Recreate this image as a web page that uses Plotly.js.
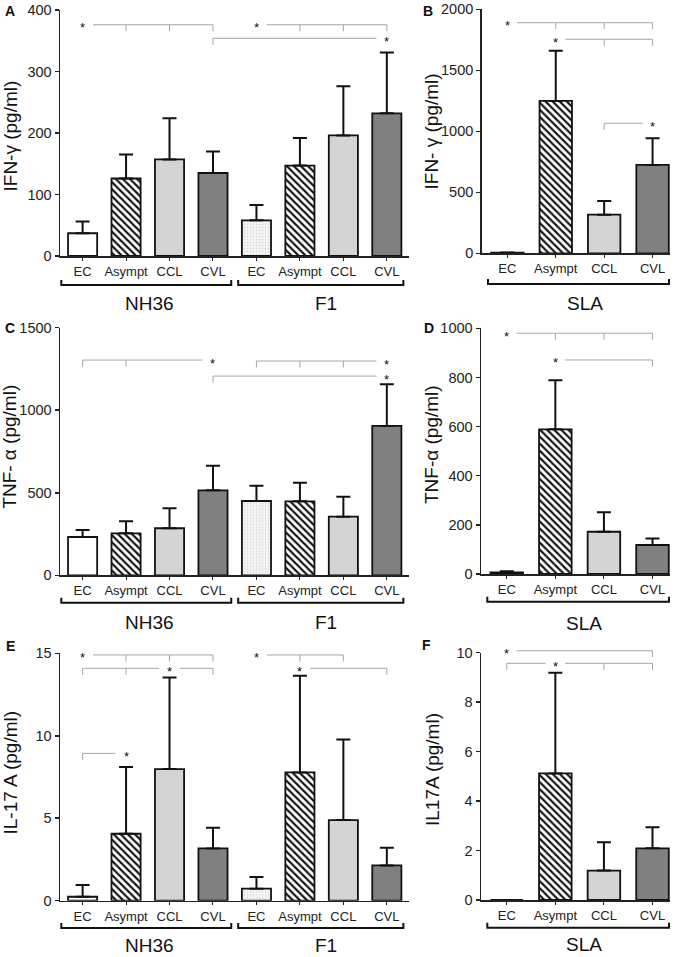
<!DOCTYPE html>
<html>
<head>
<meta charset="utf-8">
<script src="https://cdn.plot.ly/plotly-3.0.1.min.js"></script>
<style>
    html, body { margin: 0; padding: 0; background: #ffffff; }
    #figure { width: 679px; height: 957px; }
</style>
</head>
<body>
<div id="figure"></div>
<script>
// Cytokine levels (pg/ml) per clinical group

const groups = ['EC', 'Asympt', 'CCL', 'CVL'];
const pairAntigens = ['NH36', 'F1'];
const slaAntigen = ['SLA'];

// IFN-gamma: NH36 (4 groups) then F1 (4 groups); upper = top of the SE bar
const ifnMean = [37, 126, 157, 135, 58, 147, 196, 232];
const ifnUpper = [56, 165, 224, 170, 83, 192, 276, 331];
const ifnSlaMean = [5, 1249, 317, 724];
const ifnSlaUpper = [6, 1661, 429, 943];

// TNF-alpha
const tnfMean = [232, 254, 285, 515, 450, 448, 355, 905];
const tnfUpper = [275, 327, 406, 664, 543, 561, 476, 1157];
const tnfSlaMean = [7, 589, 172, 118];
const tnfSlaUpper = [11, 789, 251, 144];

// IL-17A
const il17Mean = [0.24, 4.06, 7.98, 3.17, 0.73, 7.78, 4.89, 2.14];
const il17Upper = [0.95, 8.1, 13.54, 4.43, 1.44, 13.64, 9.78, 3.21];
const il17SlaMean = [0, 5.12, 1.19, 2.09];
const il17SlaUpper = [0, 9.19, 2.34, 2.94];

// Significance brackets: level, group index carrying the star, groups compared
const ifnSig = [
    { y: 376, star: 0, ticks: [1, 2, 3] },
    { y: 376, star: 4, ticks: [5, 6, 7] },
    { y: 354, star: 7, ticks: [3] }
];
const ifnSlaSig = [
    { y: 1890, star: 0, ticks: [1, 2, 3] },
    { y: 1754, star: 1, ticks: [2, 3] },
    { y: 1066, star: 3, ticks: [2] }
];
const tnfSig = [
    { y: 1304, star: 3, ticks: [0, 1] },
    { y: 1298, star: 7, ticks: [4, 5, 6] },
    { y: 1207, star: 7, ticks: [3] }
];
const tnfSlaSig = [
    { y: 980, star: 0, ticks: [1, 2, 3] },
    { y: 871, star: 1, ticks: [3] }
];
const il17Sig = [
    { y: 14.9, star: 0, ticks: [1, 2, 3] },
    { y: 14.09, star: 2, ticks: [0, 1, 3] },
    { y: 8.93, star: 1, ticks: [0] },
    { y: 14.9, star: 4, ticks: [5, 6] },
    { y: 14.09, star: 5, ticks: [7] }
];
const il17SlaSig = [
    { y: 10.08, star: 0, ticks: [3] },
    { y: 9.57, star: 1, ticks: [0, 2, 3] }
];

const W = 679;
const H = 957;
const FONT = 'Liberation Sans, Arial, Helvetica, sans-serif';
const NARROW = 'Liberation Sans Narrow, Liberation Sans, Arial, sans-serif';
const INK = '#111111';
const SIG_GREY = '#a6a6a6';

// bar fills: one entry per style, F1 controls get a light stipple
const barStyles = {
    EC: { bg: '#ffffff' },
    EC2: { bg: '#f4f4f4', pattern: { shape: '.', fgcolor: '#d2d2d2', bgcolor: '#f4f4f4', size: 3, solidity: 0.15 } },
    Asympt: { bg: '#ffffff', pattern: { shape: '\\', fgcolor: INK, bgcolor: '#ffffff', size: 5, solidity: 0.42 } },
    CCL: { bg: '#d4d4d4' },
    CVL: { bg: '#808080' }
};

// bracket spans under the axis, in category units [from, to, label x]
const pairSpans = [[-0.49, 3.42, 1.55], [3.58, 7.38, 5.6]];
const slaSpans = [[-0.4, 3.34, 1.6]];

const panels = [
    { letter: 'A', title: 'IFN-γ (pg/ml)', mean: ifnMean, upper: ifnUpper, sig: ifnSig,
      ymax: 400, dtick: 100, box: { l: 60, r: 409, t: 10, b: 256 },
      titleAt: [10, 136.5], letterAt: [10, 11], bracketY: 285, labelY: 303 },
    { letter: 'B', title: 'IFN- γ (pg/ml)', mean: ifnSlaMean, upper: ifnSlaUpper, sig: ifnSlaSig,
      ymax: 2000, dtick: 500, box: { l: 481.7, r: 670, t: 9.3, b: 253.3 },
      titleAt: [431, 131.5], letterAt: [428, 11.5], bracketY: 284, labelY: 303 },
    { letter: 'C', title: 'TNF- α (pg/ml)', mean: tnfMean, upper: tnfUpper, sig: tnfSig,
      ymax: 1500, dtick: 500, box: { l: 60, r: 409, t: 327.7, b: 575.3 },
      titleAt: [10, 446.7], letterAt: [10, 327.7], bracketY: 602.7, labelY: 622.7 },
    { letter: 'D', title: 'TNF-α (pg/ml)', mean: tnfSlaMean, upper: tnfSlaUpper, sig: tnfSlaSig,
      ymax: 1000, dtick: 200, box: { l: 481, r: 670, t: 328.3, b: 574 },
      titleAt: [432, 445], letterAt: [429, 328], bracketY: 601.7, labelY: 623 },
    { letter: 'E', title: 'IL-17 A (pg/ml)', mean: il17Mean, upper: il17Upper, sig: il17Sig,
      ymax: 15, dtick: 5, box: { l: 60, r: 409, t: 653.3, b: 900.7 },
      titleAt: [10, 772.5], letterAt: [10, 646], bracketY: 928, labelY: 945 },
    { letter: 'F', title: 'IL17A (pg/ml)', mean: il17SlaMean, upper: il17SlaUpper, sig: il17SlaSig,
      ymax: 10, dtick: 2, box: { l: 481, r: 670, t: 652.7, b: 900 },
      titleAt: [432, 770], letterAt: [426, 645], bracketY: 927.7, labelY: 944 }
];

const px2x = p => p / W;
const px2y = p => 1 - p / H;

function axisIds(i) {
    const n = i === 0 ? '' : String(i + 1);
    return { x: 'x' + n, y: 'y' + n, xKey: 'xaxis' + n, yKey: 'yaxis' + n };
}

function styleKey(i) {
    const g = groups[i % 4];
    return g === 'EC' && i >= 4 ? 'EC2' : g;
}

/**
 * One bar trace per fill style, so every pattern stays a plain scalar
 */
function barTraces(p, ids) {
    const out = [];
    Object.keys(barStyles).forEach(key => {
        const idx = p.mean.map((_, i) => i).filter(i => styleKey(i) === key);
        if (!idx.length) return;
        const st = barStyles[key];
        const err = idx.map(i => (p.upper[i] > p.mean[i] ? p.upper[i] - p.mean[i] : null));
        const marker = { color: st.bg, line: { color: INK, width: 1.8 } };
        if (st.pattern) marker.pattern = st.pattern;
        out.push({
            type: 'bar',
            x: idx,
            y: idx.map(i => p.mean[i]),
            xaxis: ids.x,
            yaxis: ids.y,
            width: 0.67,
            marker: marker,
            error_y: {
                type: 'data',
                symmetric: false,
                array: err,
                arrayminus: err.map(e => (e === null ? null : 0)),
                color: INK,
                thickness: 2,
                width: 7
            },
            hoverinfo: 'skip'
        });
    });
    return out;
}

const traces = [];
const shapes = [];
const annotations = [];
const layout = {
    width: W,
    height: H,
    margin: { l: 0, r: 0, t: 0, b: 0 },
    paper_bgcolor: '#ffffff',
    plot_bgcolor: '#ffffff',
    showlegend: false,
    barmode: 'overlay',
    font: { family: FONT, color: INK }
};

panels.forEach((p, i) => {
    const ids = axisIds(i);
    const paired = p.mean.length === 8;
    const pos = p.mean.map((_, k) => k);
    const span = p.box.b - p.box.t;

    traces.push(...barTraces(p, ids));

    layout[ids.xKey] = {
        domain: [px2x(p.box.l), px2x(p.box.r)],
        range: paired ? [-0.52, 7.51] : [-0.53, 3.36],
        anchor: ids.y,
        tickvals: pos,
        ticktext: paired ? groups.concat(groups) : groups,
        tickfont: { family: NARROW, size: 13, color: '#222222' },
        ticks: 'outside',
        ticklen: 3,
        tickwidth: 1,
        tickcolor: '#222222',
        showline: true,
        linecolor: '#222222',
        linewidth: 1.5,
        showgrid: false,
        zeroline: false,
        fixedrange: true
    };
    layout[ids.yKey] = {
        domain: [px2y(p.box.b), px2y(p.box.t)],
        range: [0, p.ymax],
        anchor: ids.x,
        tick0: 0,
        dtick: p.dtick,
        tickformat: 'd',
        tickfont: { family: FONT, size: 14.5, color: '#222222' },
        ticks: 'outside',
        ticklen: 4,
        tickwidth: 1.5,
        tickcolor: '#222222',
        showline: true,
        linecolor: '#222222',
        linewidth: 1.5,
        showgrid: false,
        zeroline: false,
        fixedrange: true
    };

    // significance brackets (grey) with stars
    const gap = paired ? 0.24 : 0.2;
    const tickLen = 6.5 / span;
    const ydom = ids.y + ' domain';
    p.sig.forEach(b => {
        const lvl = b.y / p.ymax;
        const all = b.ticks.concat([b.star]);
        const lo = Math.min(...all);
        const hi = Math.max(...all);
        const seg = (x0, x1) => shapes.push({
            type: 'line', xref: ids.x, yref: ydom, x0: x0, x1: x1, y0: lvl, y1: lvl,
            line: { color: SIG_GREY, width: 1 }
        });
        if (lo < b.star) seg(lo, b.star - gap);
        if (hi > b.star) seg(b.star + gap, hi);
        b.ticks.forEach(t => shapes.push({
            type: 'line', xref: ids.x, yref: ydom, x0: t, x1: t, y0: lvl, y1: lvl - tickLen,
            line: { color: SIG_GREY, width: 1 }
        }));
        annotations.push({
            xref: ids.x, yref: ydom, x: b.star, y: lvl, text: '*', showarrow: false,
            xanchor: 'center', yanchor: 'middle', yshift: -3,
            font: { family: FONT, size: 13, color: INK }
        });
    });

    // antigen brackets below the category labels
    const names = paired ? pairAntigens : slaAntigen;
    const spans = paired ? pairSpans : slaSpans;
    const by = px2y(p.bracketY);
    const up = 5 / H;
    names.forEach((name, k) => {
        const [x0, x1, lx] = spans[k];
        shapes.push({
            type: 'path', xref: ids.x, yref: 'paper',
            path: `M${x0},${by + up} L${x0},${by} L${x1},${by} L${x1},${by + up}`,
            line: { color: INK, width: 2 }
        });
        annotations.push({
            xref: ids.x, yref: 'paper', x: lx, y: px2y(p.labelY), text: name, showarrow: false,
            xanchor: 'center', yanchor: 'middle',
            font: { family: FONT, size: 19, color: INK }
        });
    });

    // axis title and panel letter
    annotations.push({
        xref: 'paper', yref: 'paper', x: px2x(p.titleAt[0]), y: px2y(p.titleAt[1]),
        text: p.title, textangle: -90, showarrow: false, xanchor: 'center', yanchor: 'middle',
        font: { family: FONT, size: 19, color: INK }
    });
    annotations.push({
        xref: 'paper', yref: 'paper', x: px2x(p.letterAt[0]), y: px2y(p.letterAt[1]),
        text: '<b>' + p.letter + '</b>', showarrow: false, xanchor: 'center', yanchor: 'middle',
        font: { family: FONT, size: 14, color: INK }
    });
});

layout.shapes = shapes;
layout.annotations = annotations;

Plotly.newPlot('figure', traces, layout, { staticPlot: true, displayModeBar: false });
</script>
</body>
</html>
